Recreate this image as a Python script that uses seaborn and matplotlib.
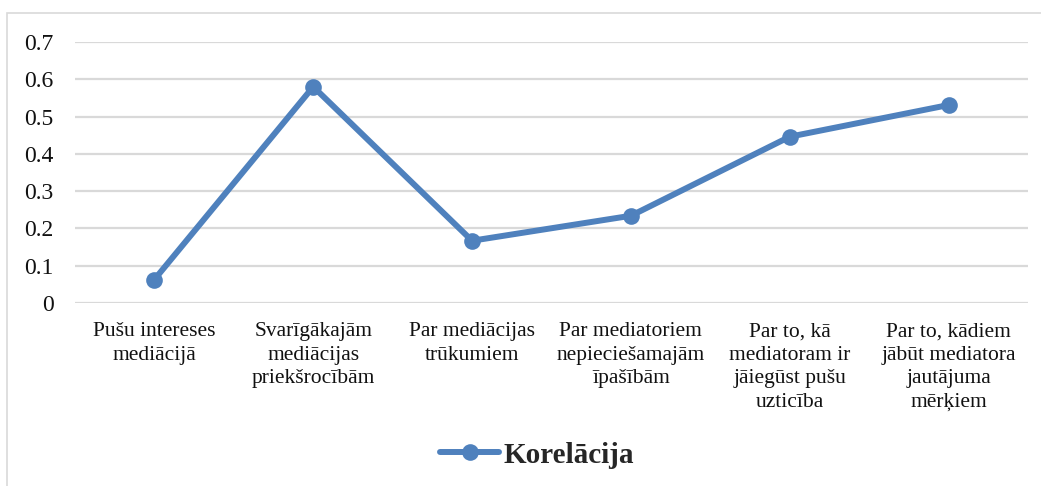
import matplotlib
matplotlib.use("Agg")
import matplotlib.pyplot as plt
from matplotlib.patches import Rectangle
import seaborn as sns
import pandas as pd

# Dữ liệu
categories = [
    "Pušu intereses\nmediācijā",
    "Svarīgākajām\nmediācijas\npriekšrocībām",
    "Par mediācijas\ntrūkumiem",
    "Par mediatoriem\nnepieciešamajām\nīpašībām",
    "Par to, kā\nmediatoram ir\njāiegūst pušu\nuzticība",
    "Par to, kādiem\njābūt mediatora\njautājuma\nmērķiem",
]
korelacija = [0.063, 0.580, 0.167, 0.234, 0.446, 0.531]
y_ticks = [0, 0.1, 0.2, 0.3, 0.4, 0.5, 0.6, 0.7]
y_tick_labels = ["0", "0.1", "0.2", "0.3", "0.4", "0.5", "0.6", "0.7"]
series_name = "Korelācija"

df = pd.DataFrame({"cat": categories, "val": korelacija, "series": series_name})

sns.set_theme(style="white")
plt.rcParams["font.family"] = ["Liberation Serif", "DejaVu Serif"]

BLUE = "#4F81BD"
GRID = "#D9D9D9"

fig = plt.figure(figsize=(10.41, 4.86), dpi=100)
ax = fig.add_axes([75 / 1041, 1 - 303 / 486, (1028 - 75) / 1041, (303 - 42) / 486])

sns.lineplot(data=df, x="cat", y="val", hue="series", palette=[BLUE],
             marker="o", markersize=12, markeredgewidth=0, linewidth=4.3,
             sort=False, ax=ax)

ax.set_xlim(-0.5, len(categories) - 0.5)
ax.set_ylim(0, 0.7)
ax.set_yticks(y_ticks, y_tick_labels)
ax.set_xticks(range(len(categories)), categories)
ax.yaxis.grid(True, color=GRID, linewidth=1.6)
ax.set_axisbelow(True)
for s in ax.spines.values():
    s.set_visible(False)
ax.tick_params(axis="y", length=0, pad=15.5, labelsize=17, labelcolor="#111111")
ax.tick_params(axis="x", length=0, pad=14, labelsize=15.5, labelcolor="#111111")
for lbl in ax.get_xticklabels():
    lbl.set_linespacing(1.32)
ax.set_xlabel("")
ax.set_ylabel("")

# khung ngoài (bị cắt ở phải và dưới)
fig.patches.append(Rectangle((7 / 1041, -0.1), 2, 0.1 + 1 - 13 / 486,
                             transform=fig.transFigure, fill=False,
                             edgecolor=GRID, linewidth=1.2))

ax.legend(loc="center", bbox_to_anchor=(537 / 1041, 1 - 455 / 486),
          bbox_transform=fig.transFigure, frameon=False, handlelength=2.0,
          handletextpad=0.15, prop={"size": 21, "weight": "bold"})

fig.savefig("out.png", dpi=100)
